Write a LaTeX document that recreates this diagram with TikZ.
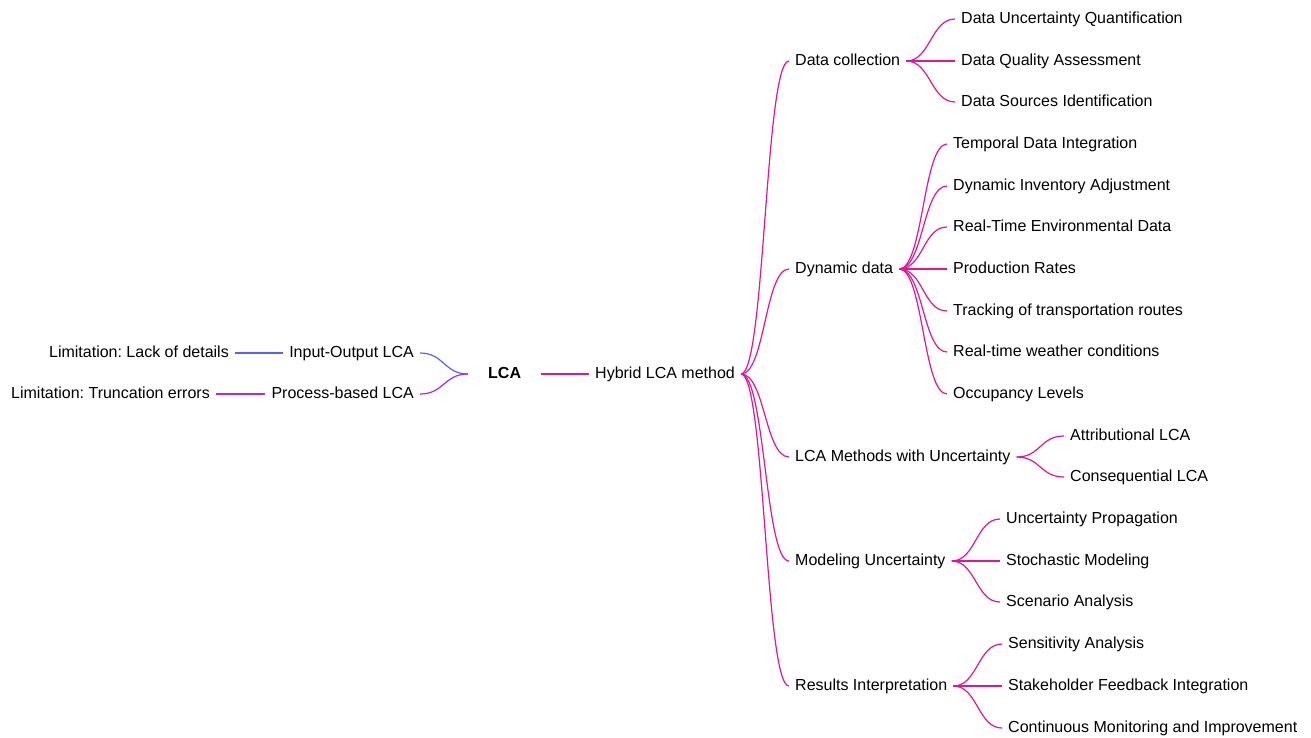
\documentclass[tikz,border=0pt]{standalone}
\usepackage{fontspec}
\setmainfont{Liberation Sans}
\frenchspacing
\definecolor{cblue}{RGB}{92,92,255}
\definecolor{cpurple}{RGB}{178,40,222}
\definecolor{cmag}{RGB}{226,20,152}
\begin{document}
\begin{tikzpicture}[x=1bp,y=-1bp,
  lbl/.style={anchor=west,inner xsep=6bp,inner ysep=0bp,text height=11.5bp,text depth=3bp,font=\fontsize{16bp}{19bp}\selectfont\frenchspacing,yshift=-1bp},
  lblr/.style={lbl,anchor=east},
  conn/.style={line width=1.2bp},
  fan/.style={conn,cmag},
]
\useasboundingbox (0,0) rectangle (1311,737);
% left side
\node[lbl,font=\fontsize{16bp}{19bp}\selectfont\bfseries,inner xsep=20bp] (lca) at (468,373) {LCA};
\node[lblr] (io) at (420,352) {Input-Output LCA};
\node[lblr] (pb) at (420,393) {Process-based LCA};
\node[lblr] (lim1) at (235,352) {Limitation: Lack of details};
\node[lblr] (lim2) at (216,393) {Limitation: Truncation errors};
\draw[conn,cblue] (io.east) .. controls +(24,0) and +(-24,0) .. (lca.west);
\draw[conn,cpurple] (pb.east) .. controls +(24,0) and +(-24,0) .. (lca.west);
\draw[conn,cblue] (lim1.east) -- (io.west);
\draw[conn,cpurple] (lim2.east) -- (pb.west);
% hybrid
\node[lbl] (hyb) at (589,373) {Hybrid LCA method};
\draw[fan] (lca.east) -- (hyb.west);
% level 1
\node[lbl] (dc) at (789,60) {Data collection};
\node[lbl] (dd) at (789,268) {Dynamic data};
\node[lbl] (lm) at (789,456) {LCA Methods with Uncertainty};
\node[lbl] (mu) at (789,560) {Modeling Uncertainty};
\node[lbl] (ri) at (789,685) {Results Interpretation};
\foreach \c in {dc,dd,lm,mu,ri}
  \draw[fan] (hyb.east) .. controls +(24,0) and +(-24,0) .. (\c.west);
% data collection children
\node[lbl] (dc1) at (955,18) {Data Uncertainty Quantification};
\node[lbl] (dc2) at (955,60) {Data Quality Assessment};
\node[lbl] (dc3) at (955,101) {Data Sources Identification};
% dynamic data children
\node[lbl] (dd1) at (947,143) {Temporal Data Integration};
\node[lbl] (dd2) at (947,185) {Dynamic Inventory Adjustment};
\node[lbl] (dd3) at (947,226) {Real-Time Environmental Data};
\node[lbl] (dd4) at (947,268) {Production Rates};
\node[lbl] (dd5) at (947,310) {Tracking of transportation routes};
\node[lbl] (dd6) at (947,351) {Real-time weather conditions};
\node[lbl] (dd7) at (947,393) {Occupancy Levels};
% LCA methods children
\node[lbl] (lm1) at (1064,435) {Attributional LCA};
\node[lbl] (lm2) at (1064,476) {Consequential LCA};
% modeling children
\node[lbl] (mu1) at (1000,518) {Uncertainty Propagation};
\node[lbl] (mu2) at (1000,560) {Stochastic Modeling};
\node[lbl] (mu3) at (1000,601) {Scenario Analysis};
% results children
\node[lbl] (ri1) at (1002,643) {Sensitivity Analysis};
\node[lbl] (ri2) at (1002,685) {Stakeholder Feedback Integration};
\node[lbl] (ri3) at (1002,727) {Continuous Monitoring and Improvement};
\foreach \p/\c in {dc/dc1,dc/dc2,dc/dc3,dd/dd1,dd/dd2,dd/dd3,dd/dd4,dd/dd5,dd/dd6,dd/dd7,lm/lm1,lm/lm2,mu/mu1,mu/mu2,mu/mu3,ri/ri1,ri/ri2,ri/ri3}
  \draw[fan] (\p.east) .. controls +(24,0) and +(-24,0) .. (\c.west);
\end{tikzpicture}
\end{document}
